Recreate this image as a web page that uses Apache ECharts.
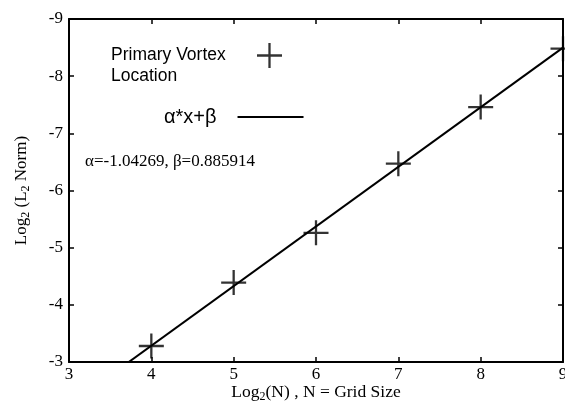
<!DOCTYPE html>
<html>
<head>
<meta charset="utf-8">
<script src="https://cdn.jsdelivr.net/npm/echarts@6/dist/echarts.min.js"></script>
<style>
  html, body { margin: 0; padding: 0; background: #fff; }
  #chart { width: 565px; height: 403px; }
</style>
</head>
<body>
<div id="chart"></div>
<script>
// Grid resolution study: log2 of error norm vs log2 of grid size
const gridLog2 = [4, 5, 6, 7, 8, 9];
const errorLog2 = [-3.28, -4.39, -5.26, -6.47, -7.46, -8.48];

// Least-squares fit coefficients
const alpha = -1.04269;
const beta = 0.885914;
const fitRange = [3, 9];

const xTicks = [3, 4, 5, 6, 7, 8, 9];
const yTicks = [-9, -8, -7, -6, -5, -4, -3];

const markerSeriesName = 'Primary Vortex Location';
const fitSeriesName = 'α*x+β';

const points = gridLog2.map((x, i) => [x, errorLog2[i]]);
const fitLine = fitRange.map(x => [x, alpha * x + beta]);

const plusPath = 'path://M-1.1,-12H1.1V12H-1.1Z M-12,-1.1H12V1.1H-12Z';
const serif = '"Liberation Serif", "Times New Roman", serif';
const sans = '"Liberation Sans", Arial, sans-serif';

const chart = echarts.init(document.getElementById('chart'), null, { renderer: 'canvas' });

const baseAxisLine = { show: true, lineStyle: { color: '#000', width: 2 } };
const baseTick = { show: true, inside: true, length: 5, lineStyle: { color: '#000', width: 1.5 } };
const subStyle = { fontFamily: serif, fontSize: 12, verticalAlign: 'bottom', padding: [9, 0, 0, 0] };

chart.setOption({
  animation: false,
  backgroundColor: '#fff',
  grid: { left: 69, right: 2, top: 19, bottom: 41, outerBoundsMode: 'none', containLabel: false },
  xAxis: [
    {
      type: 'value', min: xTicks[0], max: xTicks[xTicks.length - 1], interval: 1,
      position: 'bottom',
      axisLine: baseAxisLine, axisTick: baseTick,
      splitLine: { show: false },
      axisLabel: { color: '#000', fontFamily: serif, fontSize: 17, margin: 4 },
      name: 'Log{sub|2}(N) , N = Grid Size',
      nameLocation: 'middle', nameGap: 20, nameMoveOverlap: false,
      nameTextStyle: {
        color: '#000', fontFamily: serif, fontSize: 17.5,
        rich: { sub: subStyle }
      }
    },
    {
      type: 'value', min: xTicks[0], max: xTicks[xTicks.length - 1], interval: 1,
      position: 'top',
      axisLine: baseAxisLine, axisTick: baseTick,
      splitLine: { show: false }, axisLabel: { show: false }
    }
  ],
  yAxis: [
    {
      type: 'value', min: yTicks[0], max: yTicks[yTicks.length - 1], interval: 1,
      inverse: true, position: 'left',
      axisLine: baseAxisLine, axisTick: baseTick,
      splitLine: { show: false },
      axisLabel: { color: '#000', fontFamily: serif, fontSize: 17, margin: 6 },
      name: 'Log{sub|2} (L{sub|2} Norm)',
      nameLocation: 'middle', nameGap: 37, nameRotate: 90,
      nameTextStyle: {
        color: '#000', fontFamily: serif, fontSize: 17,
        rich: { sub: subStyle }
      }
    },
    {
      type: 'value', min: yTicks[0], max: yTicks[yTicks.length - 1], interval: 1,
      inverse: true, position: 'right',
      axisLine: baseAxisLine, axisTick: baseTick,
      splitLine: { show: false }, axisLabel: { show: false }
    }
  ],
  legend: [
    {
      data: [{ name: markerSeriesName, icon: plusPath }],
      left: 111, top: 24, padding: 0,
      align: 'right', orient: 'vertical',
      itemWidth: 25, itemHeight: 25,
      selectedMode: false,
      formatter: () => '{a|}\n{a|Primary Vortex}\n{a|Location}',
      textStyle: {
        color: '#000', fontFamily: sans, fontSize: 17.5, lineHeight: 21,
        rich: { a: { fontFamily: sans, fontSize: 17.5, lineHeight: 21, width: 141, align: 'left' } }
      }
    },
    {
      data: [{ name: fitSeriesName, icon: 'rect' }],
      left: 164, top: 107, padding: 0,
      align: 'right', orient: 'vertical',
      itemWidth: 66, itemHeight: 2,
      selectedMode: false,
      textStyle: { color: '#000', fontFamily: sans, fontSize: 20, padding: [0, 16, 0, 0] },
      itemStyle: { color: '#000' }
    }
  ],
  graphic: [
    {
      type: 'text', left: 85, top: 153,
      style: {
        text: 'α=' + alpha + ', β=' + beta,
        fill: '#000', font: '17px ' + serif
      }
    }
  ],
  series: [
    {
      name: fitSeriesName, type: 'line', data: fitLine,
      symbol: 'none', clip: true,
      lineStyle: { color: '#000', width: 2 },
      itemStyle: { color: '#000' }
    },
    {
      name: markerSeriesName, type: 'scatter', data: points,
      symbol: plusPath, symbolSize: 25, clip: false,
      itemStyle: { color: '#000' }
    }
  ]
});
</script>
</body>
</html>
